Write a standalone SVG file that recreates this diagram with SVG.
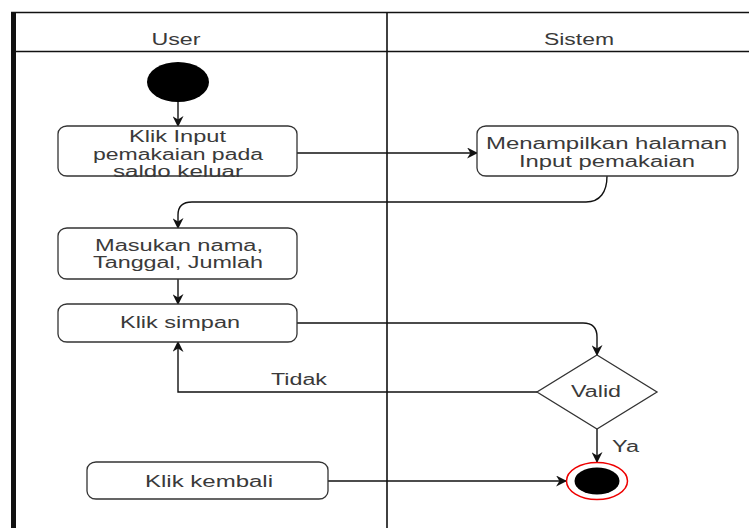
<svg xmlns="http://www.w3.org/2000/svg" width="749" height="528" viewBox="0 0 749 528">
  <style>
    .lbl { font-family: "Liberation Sans", Arial, sans-serif; font-size: 16px; fill: #3a3a3a; text-anchor: middle; }
    .act { fill: #fff; stroke: #333; stroke-width: 1.3; }
    .edge { fill: none; stroke: #111; stroke-width: 1.4; }
    .lane { stroke: #111; stroke-width: 1.6; fill: none; }
  </style>
  <defs>
    <marker id="arrow" viewBox="0 0 10 10" refX="9" refY="5" markerWidth="11" markerHeight="11" markerUnits="userSpaceOnUse" orient="auto">
      <path d="M0,0 L10,5 L0,10 L3,5 z" fill="#111"/>
    </marker>
  </defs>

  <rect width="749" height="528" fill="#fff"/>

  <!-- swimlane frame -->
  <g id="lanes">
    <rect x="11" y="12" width="5" height="516" fill="#111"/>
    <line class="lane" x1="11" y1="12.5" x2="749" y2="12.5"/>
    <line class="lane" x1="16" y1="51.5" x2="749" y2="51.5"/>
    <line class="lane" x1="387" y1="12" x2="387" y2="528"/>
    <text class="lbl" x="176" y="45" textLength="49" lengthAdjust="spacingAndGlyphs">User</text>
    <text class="lbl" x="579" y="45" textLength="70" lengthAdjust="spacingAndGlyphs">Sistem</text>
  </g>

  <!-- connectors -->
  <g id="connectors">
    <path class="edge" d="M178,102 L178,126" marker-end="url(#arrow)"/>
    <path class="edge" d="M297,153 L477,153" marker-end="url(#arrow)"/>
    <path class="edge" d="M607,176 C607,192 600,202 586,202 L192,202 Q178,202 178,215 L178,228" marker-end="url(#arrow)"/>
    <path class="edge" d="M178,279 L178,304" marker-end="url(#arrow)"/>
    <path class="edge" d="M297,323 L583,323 Q597,323 597,337 L597,355" marker-end="url(#arrow)"/>
    <path class="edge" d="M537,392 L178,392 L178,342" marker-end="url(#arrow)"/>
    <path class="edge" d="M597,429 L597,462" marker-end="url(#arrow)"/>
    <path class="edge" d="M328,481 L566,481" marker-end="url(#arrow)"/>
    <text class="lbl" x="299" y="385" textLength="56" lengthAdjust="spacingAndGlyphs">Tidak</text>
    <text class="lbl" x="625.5" y="452" textLength="27" lengthAdjust="spacingAndGlyphs">Ya</text>
  </g>

  <g id="start">
    <ellipse cx="178" cy="82" rx="31" ry="20" fill="#000"/>
  </g>

  <g id="klik-input">
    <rect class="act" x="58" y="126" width="239" height="50" rx="9" ry="8"/>
    <text class="lbl" x="177.5" y="142" textLength="97" lengthAdjust="spacingAndGlyphs">Klik Input</text>
    <text class="lbl" x="178" y="160" textLength="170" lengthAdjust="spacingAndGlyphs">pemakaian pada</text>
    <text class="lbl" x="178" y="177" textLength="130" lengthAdjust="spacingAndGlyphs">saldo keluar</text>
  </g>

  <g id="tampil-halaman">
    <rect class="act" x="477" y="126" width="261" height="50" rx="9" ry="8"/>
    <text class="lbl" x="606.5" y="149" textLength="241" lengthAdjust="spacingAndGlyphs">Menampilkan halaman</text>
    <text class="lbl" x="607" y="167" textLength="176" lengthAdjust="spacingAndGlyphs">Input pemakaian</text>
  </g>

  <g id="masukan-data">
    <rect class="act" x="58" y="228" width="239" height="51" rx="9" ry="8"/>
    <text class="lbl" x="179" y="251" textLength="168" lengthAdjust="spacingAndGlyphs">Masukan nama,</text>
    <text class="lbl" x="178" y="268" textLength="170" lengthAdjust="spacingAndGlyphs">Tanggal, Jumlah</text>
  </g>

  <g id="klik-simpan">
    <rect class="act" x="58" y="304" width="239" height="38" rx="9" ry="8"/>
    <text class="lbl" x="180" y="328" textLength="120" lengthAdjust="spacingAndGlyphs">Klik simpan</text>
  </g>

  <g id="valid">
    <polygon points="597,355 657,392 597,429 537,392" fill="#fff" stroke="#333" stroke-width="1.3"/>
    <text class="lbl" x="596" y="397" textLength="50" lengthAdjust="spacingAndGlyphs">Valid</text>
  </g>

  <g id="klik-kembali">
    <rect class="act" x="87" y="462" width="241" height="37" rx="9" ry="8"/>
    <text class="lbl" x="209" y="487" textLength="128" lengthAdjust="spacingAndGlyphs">Klik kembali</text>
  </g>

  <g id="end">
    <ellipse cx="597" cy="481" rx="30.5" ry="18.5" fill="#fff" stroke="#e00" stroke-width="1.5"/>
    <ellipse cx="597" cy="481" rx="22.5" ry="13.5" fill="#000"/>
  </g>
</svg>
